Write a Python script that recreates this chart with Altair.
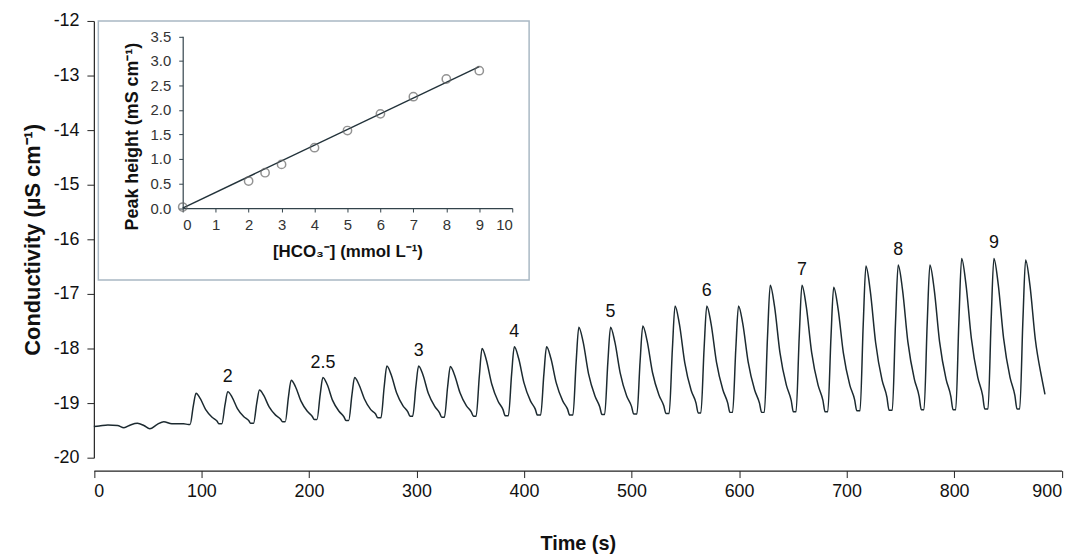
import altair as alt
import pandas as pd

# ---------------- main trace (time, conductivity) ----------------
trace_t = [
    0, 5, 13, 22, 28, 34, 40.5, 46.5, 52, 59, 65, 72.5, 83.5, 88,
    89.5, 92.5, 95, 99, 104, 110, 114.5, 116.5,
    119, 122, 124.5, 128.5, 133.5, 139.5, 144, 146,
    148.5, 151.5, 154, 158, 163, 169, 173.5, 175.5,
    178, 181, 183.5, 187.5, 192.5, 198.5, 203, 205,
    207.5, 210.5, 213, 217, 222, 228, 232.5, 234.5,
    237, 240, 242.5, 246.5, 251.5, 257.5, 262, 264,
    267, 270, 272.5, 276.5, 281.5, 287.5, 292, 294,
    296.5, 299.5, 302, 306, 311, 317, 321.5, 323.5,
    326, 329, 331.5, 335.5, 340.5, 346.5, 351, 353,
    355.5, 358.5, 361, 365, 370, 376, 380.5, 382.5,
    385.5, 388.5, 391, 395, 400, 406, 410.5, 412.5,
    415.5, 418.5, 421, 425, 430, 436, 440.5, 442.5,
    445.5, 448.5, 451, 455, 460, 466, 470.5, 472.5,
    475, 478, 480.5, 484.5, 489.5, 495.5, 500, 502,
    505, 508, 510.5, 514.5, 519.5, 525.5, 530, 532,
    535, 538, 540.5, 544.5, 549.5, 555.5, 560, 562,
    564.5, 567.5, 570, 574, 579, 585, 589.5, 591.5,
    594, 597, 599.5, 603.5, 608.5, 614.5, 619, 621,
    623.5, 626.5, 629, 633, 638, 644, 648.5, 650.5,
    653, 656, 658.5, 662.5, 667.5, 673.5, 678, 680,
    682.5, 685.5, 688, 692, 697, 703, 707.5, 709.5,
    712.5, 715.5, 718, 722, 727, 733, 737.5, 739.5,
    742.5, 745.5, 748, 752, 757, 763, 767.5, 769.5,
    772, 775, 777.5, 781.5, 786.5, 792.5, 797, 799,
    801.5, 804.5, 807, 811, 816, 822, 826.5, 828.5,
    831.5, 834.5, 837, 841, 846, 852, 856.5, 858.5,
    861, 864, 866.5, 870.5, 875.5, 881.5, 884.5,
]
trace_v = [
    -19.43, -19.42, -19.40, -19.41, -19.45, -19.40, -19.37, -19.41, -19.47, -19.39, -19.34, -19.38, -19.38, -19.39,
    -19.39, -19.05, -18.82, -18.92, -19.12, -19.26, -19.33, -19.38,
    -19.38, -19.03, -18.79, -18.89, -19.10, -19.25, -19.32, -19.37,
    -19.37, -19.00, -18.76, -18.86, -19.07, -19.22, -19.29, -19.34,
    -19.34, -18.88, -18.58, -18.70, -18.96, -19.15, -19.24, -19.30,
    -19.30, -18.84, -18.53, -18.66, -18.95, -19.15, -19.25, -19.32,
    -19.32, -18.85, -18.53, -18.66, -18.92, -19.12, -19.20, -19.27,
    -19.27, -18.70, -18.32, -18.48, -18.81, -19.05, -19.16, -19.24,
    -19.24, -18.69, -18.32, -18.48, -18.82, -19.06, -19.18, -19.26,
    -19.26, -18.70, -18.33, -18.49, -18.81, -19.05, -19.16, -19.24,
    -19.24, -18.50, -18.00, -18.21, -18.65, -18.97, -19.12, -19.23,
    -19.23, -18.47, -17.97, -18.18, -18.63, -18.96, -19.11, -19.22,
    -19.22, -18.47, -17.97, -18.18, -18.63, -18.96, -19.11, -19.22,
    -19.22, -18.25, -17.61, -17.88, -18.46, -18.87, -19.07, -19.21,
    -19.21, -18.25, -17.61, -17.88, -18.45, -18.87, -19.06, -19.20,
    -19.20, -18.23, -17.59, -17.86, -18.44, -18.85, -19.05, -19.19,
    -19.19, -18.01, -17.22, -17.55, -18.26, -18.77, -19.00, -19.18,
    -19.18, -18.00, -17.22, -17.55, -18.25, -18.76, -19.00, -19.17,
    -19.17, -18.00, -17.22, -17.55, -18.25, -18.76, -19.00, -19.17,
    -19.17, -17.77, -16.84, -17.23, -18.07, -18.67, -18.95, -19.16,
    -19.16, -17.77, -16.84, -17.23, -18.07, -18.67, -18.95, -19.16,
    -19.16, -17.79, -16.88, -17.26, -18.08, -18.67, -18.94, -19.14,
    -19.14, -17.55, -16.49, -16.94, -17.89, -18.58, -18.89, -19.13,
    -19.13, -17.53, -16.47, -16.92, -17.88, -18.56, -18.88, -19.12,
    -19.12, -17.53, -16.47, -16.92, -17.88, -18.56, -18.88, -19.12,
    -19.12, -17.46, -16.35, -16.82, -17.81, -18.53, -18.86, -19.11,
    -19.11, -17.45, -16.35, -16.82, -17.81, -18.53, -18.86, -19.11,
    -19.11, -17.47, -16.38, -16.84, -17.83, -18.54, -18.84,
]

# ---------------- peak labels ----------------
peak_label = ["2", "2.5", "3", "4", "5", "6", "7", "8", "9"]
peak_label_t = [124.5, 213, 302, 391, 480.5, 570, 658.5, 748, 837]
peak_label_v = [-18.79, -18.53, -18.32, -17.97, -17.61, -17.22, -16.84, -16.47, -16.35]

# ---------------- inset calibration ----------------
conc = [0, 2, 2.5, 3, 4, 5, 6, 7, 8, 9]
peak_height = [0.02, 0.55, 0.72, 0.89, 1.23, 1.58, 1.92, 2.27, 2.63, 2.80]
fit_x = [0, 9]
fit_y = [0.0, 2.88]

main_ticks_x = [0, 100, 200, 300, 400, 500, 600, 700, 800, 900]
main_ticks_y = [-20, -19, -18, -17, -16, -15, -14, -13, -12]
inset_ticks_x = [0, 1, 2, 3, 4, 5, 6, 7, 8, 9, 10]
inset_ticks_y = [0, 0.5, 1.0, 1.5, 2.0, 2.5, 3.0, 3.5]

trace_df = pd.DataFrame({"t": trace_t, "v": trace_v})
label_df = pd.DataFrame({"t": peak_label_t, "v": peak_label_v, "label": peak_label})
cal_df = pd.DataFrame({"c": conc, "h": peak_height})
fit_df = pd.DataFrame({"c": fit_x, "h": fit_y})

W, H = 1081, 547
FONT = "Liberation Sans, Arial, sans-serif"

xs_main = alt.Scale(domain=[0, 900], range=[86.5, 1061.5], nice=False, zero=False)
ys_main = alt.Scale(domain=[-20, -12], range=[451, 11], nice=False, zero=False)
xs_in = alt.Scale(domain=[0, 10], range=[176, 508], nice=False, zero=False)
ys_in = alt.Scale(domain=[0, 3.5], range=[199.5, 26.5], nice=False, zero=False)

x_main_axis = alt.Axis(
    orient="bottom", offset=464 - H, values=main_ticks_x, grid=False,
    labelExpr="toString(datum.value)", labelOverlap=False,
    tickSize=7, labelPadding=5, labelFontSize=18, labelFont=FONT, labelColor="#111",
    domainColor="#222", tickColor="#222", domainWidth=1.2,
    title="Time (s)", titleFont=FONT, titleFontSize=20, titleFontWeight="bold",
    titleColor="#111", titlePadding=34,
)
y_main_axis = alt.Axis(
    orient="left", offset=-86.5, values=main_ticks_y, grid=False,
    tickSize=7, labelPadding=8, labelFontSize=18, labelFont=FONT, labelColor="#111",
    labelExpr="toString(datum.value)", labelOverlap=False,
    domainColor="#222", tickColor="#222", domainWidth=1.2,
    title="Conductivity (µS cm⁻¹)", titleFont=FONT, titleFontSize=22,
    titleFontWeight="bold", titleColor="#111", titlePadding=9,
)
x_in_axis = alt.Axis(
    orient="bottom", offset=199.5 - H, values=inset_ticks_x, grid=False,
    labelExpr="toString(datum.value)", labelOverlap=False,
    tickSize=4, labelPadding=6, labelFontSize=15, labelFont=FONT, labelColor="#333",
    domainColor="#33434b", tickColor="#33434b", domainWidth=1.2,
    title="[HCO₃⁻] (mmol L⁻¹)", titleFont=FONT, titleFontSize=17,
    titleFontWeight="bold", titleColor="#111", titlePadding=11,
)
y_in_axis = alt.Axis(
    orient="left", offset=-176, values=inset_ticks_y, grid=False,
    labelExpr="format(datum.value, '.1f')", labelOverlap=False,
    tickSize=4, labelPadding=8, labelFontSize=15, labelFont=FONT, labelColor="#333",
    domainColor="#33434b", tickColor="#33434b", domainWidth=1.2,
    title="Peak height (mS cm⁻¹)", titleFont=FONT, titleFontSize=18,
    titleFontWeight="bold", titleColor="#111", titlePadding=9, titleY=127,
)

trace = alt.Chart(trace_df).mark_line(
    color="#1c2a30", strokeWidth=1.5, interpolate="monotone"
).encode(
    x=alt.X("t:Q", scale=xs_main, axis=x_main_axis),
    y=alt.Y("v:Q", scale=ys_main, axis=y_main_axis),
)

labels = alt.Chart(label_df).mark_text(
    fontSize=18, font=FONT, color="#111", dy=-15, baseline="middle", align="center"
).encode(
    x=alt.X("t:Q", scale=xs_main),
    y=alt.Y("v:Q", scale=ys_main),
    text="label:N",
)

main = alt.layer(trace, labels)

box = alt.Chart(pd.DataFrame({"k": [0]})).mark_rect(
    fillOpacity=0, stroke="#a9b8c4", strokeWidth=1.5
).encode(
    x=alt.value(91), x2=alt.value(525), y=alt.value(11), y2=alt.value(272)
)

fit = alt.Chart(fit_df).mark_line(color="#22323a", strokeWidth=1.4).encode(
    x=alt.X("c:Q", scale=xs_in, axis=x_in_axis),
    y=alt.Y("h:Q", scale=ys_in, axis=y_in_axis),
)
pts = alt.Chart(cal_df).mark_point(
    shape="circle", filled=False, size=70, color="#666666", strokeWidth=1.5
).encode(
    x=alt.X("c:Q", scale=xs_in),
    y=alt.Y("h:Q", scale=ys_in),
)

inset = alt.layer(fit, pts)

chart = alt.layer(main, box, inset).resolve_scale(
    x="independent", y="independent"
).resolve_axis(
    x="independent", y="independent"
).properties(
    width=W, height=H, padding=0,
    autosize=alt.AutoSizeParams(type="none"),
).configure_view(strokeWidth=0)

chart.save("out.html", embed_options={"renderer": "svg", "actions": False})
